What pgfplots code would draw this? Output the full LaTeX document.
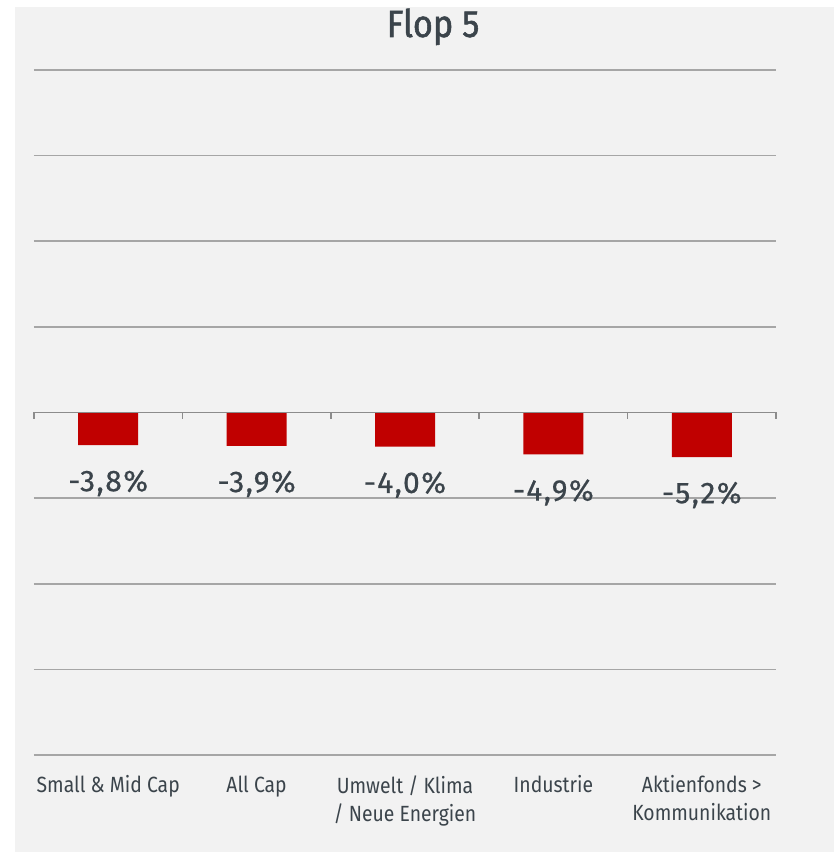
\documentclass[border=0pt]{standalone}
\usepackage{fontspec}
\setmainfont{Fira Sans}[FakeStretch=0.88]
\newfontfamily\lblfont{Fira Sans}[LetterSpace=5, FakeBold=0.6]
\newfontfamily\titlefont{Fira Sans}[FakeStretch=0.9, FakeBold=1.4]
\usepackage{pgfplots}
\pgfplotsset{compat=1.18}
\definecolor{bg}{HTML}{F2F2F2}
\definecolor{barred}{HTML}{C00000}
\definecolor{gridc}{HTML}{A6A6A6}
\definecolor{zeroc}{HTML}{8C8C8C}
\definecolor{txt}{HTML}{3B444B}
\begin{document}
\begin{tikzpicture}[x=1pt,y=1pt]
\useasboundingbox (0,0) rectangle (834,852);
\fill[bg] (15,0) rectangle (834,845);
\node[text=txt, font=\titlefont\fontsize{38}{40}\selectfont, anchor=base] at (433,815) {Flop 5};
\begin{axis}[
  at={(34pt,97pt)}, anchor=south west,
  scale only axis, width=742pt, height=685pt,
  ybar, bar width=60pt,
  xmin=-0.5, xmax=4.5, ymin=-40, ymax=40,
  axis line style={draw=none},
  ytick={-40,-30,...,40}, yticklabels={},
  ymajorgrids,
  grid style={gridc, line width=1.6pt},
  major tick length=0pt,
  xtick={0,...,4},
  xticklabels={{Small \& Mid Cap},{All Cap},{Umwelt / Klima\\/ Neue Energien},{Industrie},{Aktienfonds >\\Kommunikation}},
  xticklabel style={align=center, font=\fontsize{22}{28}\selectfont, text=txt, yshift=-17pt},
  nodes near coords,
  point meta=explicit symbolic,
  every node near coord/.append style={font=\lblfont\fontsize{30}{32}\selectfont, text=txt, anchor=center, yshift=-38pt},
  clip=false,
]
\addplot[fill=barred, draw=none] coordinates {
  (0,-3.8) [-3,8\%]
  (1,-3.9) [-3,9\%]
  (2,-4.0) [-4,0\%]
  (3,-4.9) [-4,9\%]
  (4,-5.2) [-5,2\%]
};
% zero line with category separators
\draw[zeroc, line width=1.6pt] (axis cs:-0.5,0) -- (axis cs:4.5,0);
\pgfplotsinvokeforeach{-0.5,0.5,1.5,2.5,3.5,4.5}{
  \draw[zeroc, line width=1.6pt] (axis cs:#1,0) -- ++(0pt,-7pt);
}
\end{axis}
\end{tikzpicture}
\end{document}
